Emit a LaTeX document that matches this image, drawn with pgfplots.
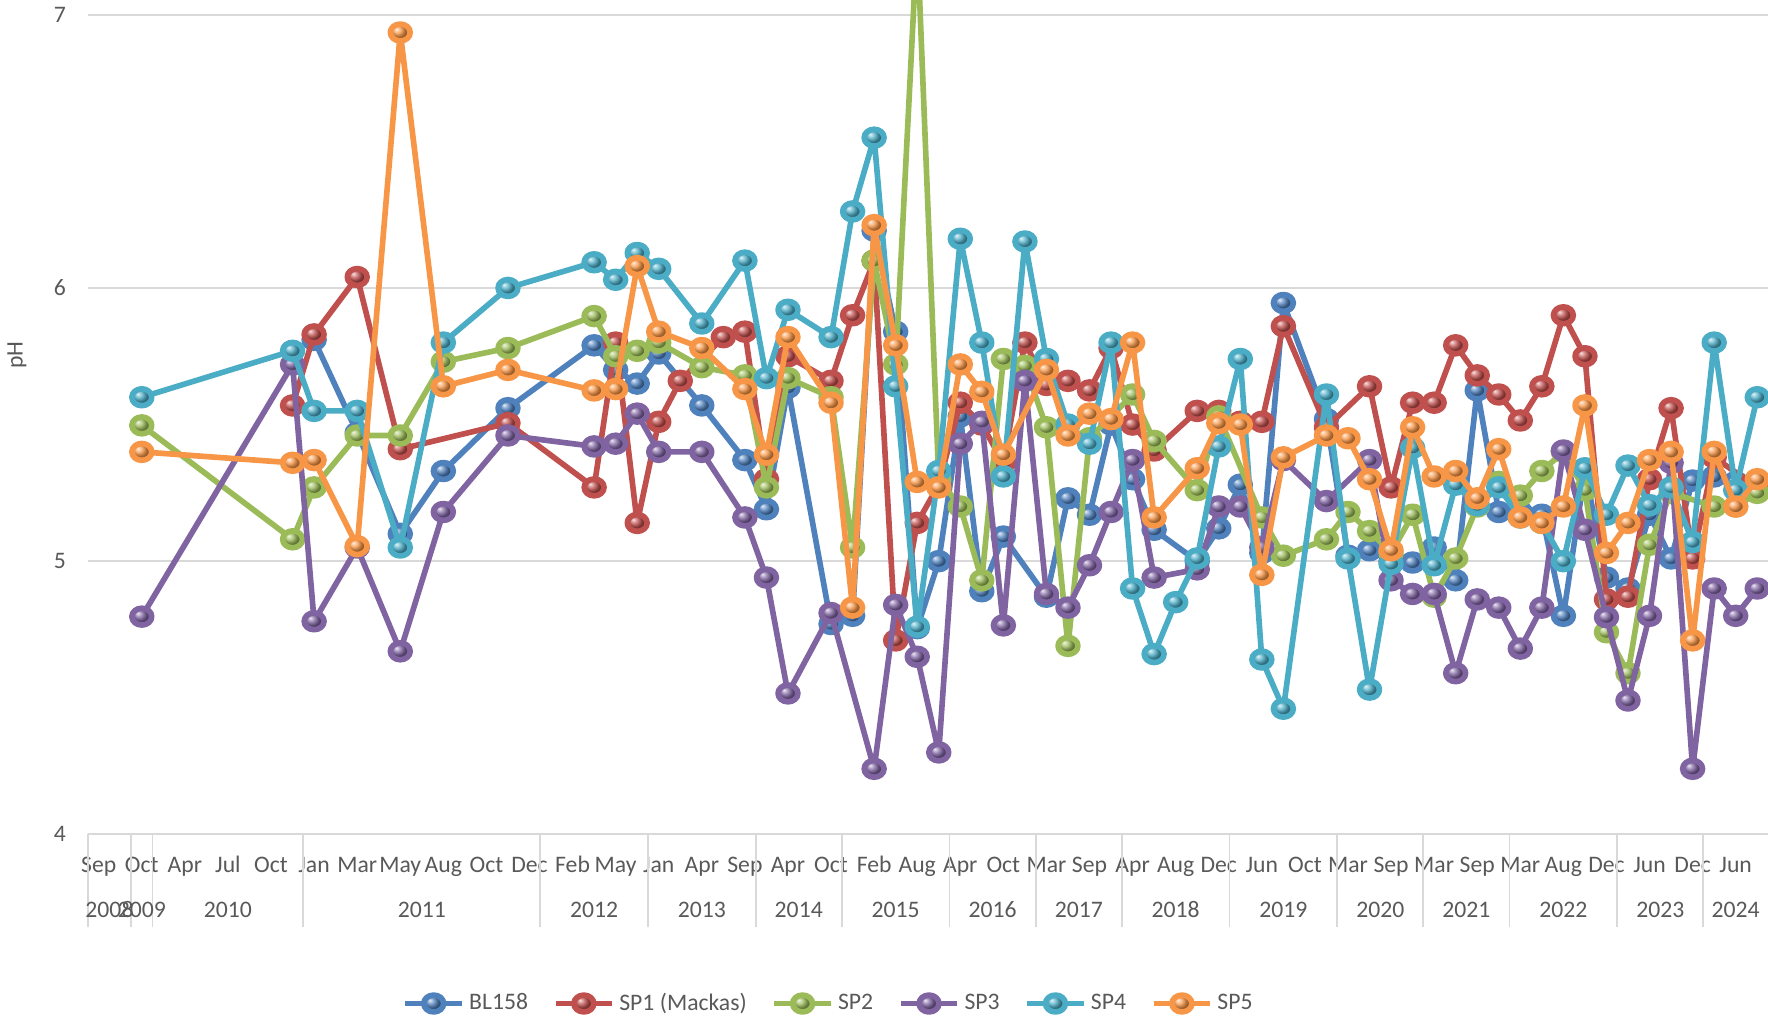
\documentclass[border=0pt]{standalone}
\usepackage{pgfplots}
\pgfplotsset{compat=1.18}
\usepackage{fontspec}
\setmainfont{Carlito}
\definecolor{cA}{HTML}{4F81BD}
\definecolor{cB}{HTML}{C0504D}
\definecolor{cC}{HTML}{9BBB59}
\definecolor{cD}{HTML}{8064A2}
\definecolor{cE}{HTML}{4BACC6}
\definecolor{cF}{HTML}{F79646}
\definecolor{txt}{HTML}{595959}
\definecolor{grd}{HTML}{D9D9D9}
\pgfdeclareplotmark{ballA}{\shade[ball color=cA] (0pt,0pt) ellipse [x radius=\pgfplotmarksize, y radius=0.85*\pgfplotmarksize];}
\pgfdeclareplotmark{ballB}{\shade[ball color=cB] (0pt,0pt) ellipse [x radius=\pgfplotmarksize, y radius=0.85*\pgfplotmarksize];}
\pgfdeclareplotmark{ballC}{\shade[ball color=cC] (0pt,0pt) ellipse [x radius=\pgfplotmarksize, y radius=0.85*\pgfplotmarksize];}
\pgfdeclareplotmark{ballD}{\shade[ball color=cD] (0pt,0pt) ellipse [x radius=\pgfplotmarksize, y radius=0.85*\pgfplotmarksize];}
\pgfdeclareplotmark{ballE}{\shade[ball color=cE] (0pt,0pt) ellipse [x radius=\pgfplotmarksize, y radius=0.85*\pgfplotmarksize];}
\pgfdeclareplotmark{ballF}{\shade[ball color=cF] (0pt,0pt) ellipse [x radius=\pgfplotmarksize, y radius=0.85*\pgfplotmarksize];}
\newcommand\lbl{\fontsize{10.5}{12}\selectfont}
\begin{document}
\begin{tikzpicture}
\begin{axis}[
  width=745pt, height=370pt, scale only axis,
  xmin=-0.5, xmax=77.5, ymin=4, ymax=7.054,
  axis line style={draw=none},
  clip mode=individual,
  ytick={4,5,6,7}, ymajorgrids, grid style={grd, line width=0.8pt},
  xtick={0,2,...,76},
  xticklabels={Sep,Oct,Apr,Jul,Oct,Jan,Mar,May,Aug,Oct,Dec,Feb,May,Jan,Apr,Sep,Apr,Oct,Feb,Aug,Apr,Oct,Mar,Sep,Apr,Aug,Dec,Jun,Oct,Mar,Sep,Mar,Sep,Mar,Aug,Dec,Jun,Dec,Jun},
  tick style={draw=none},
  xticklabel style={anchor=base, yshift=-17pt, font=\lbl, text=txt},
  yticklabel style={anchor=east, xshift=-6.3pt, font=\lbl, text=txt},
  /pgf/number format/assume math mode=true,
  legend style={at={(0.4416,0)}, anchor=center, yshift=-75pt, draw=none, fill=none,
    legend columns=-1, font=\lbl, text=txt,
    /tikz/every even column/.append style={column sep=9pt}},
  legend image code/.code={\draw[mark repeat=2,mark phase=2,#1] plot coordinates {(0pt,0pt) (12.5pt,0pt) (25pt,0pt)};},
  every axis plot/.append style={line width=2.5pt, mark size=4.4pt, line join=round},
]
\addplot[color=cA, mark=ballA] coordinates {(10,5.81)(12,5.47)(14,5.10)(16,5.33)(19,5.56)(23,5.79)(24,5.70)(25,5.65)(26,5.76)(28,5.57)(30,5.37)(31,5.19)(32,5.635)(34,4.77)(35,4.80)(36,6.21)(37,5.84)(38,4.755)(39,5.00)(40,5.53)(41,4.89)(42,5.09)(44,4.87)(45,5.23)(46,5.17)(47,5.50)(48,5.30)(49,5.115)(51,5.00)(52,5.12)(53,5.28)(54,5.03)(55,5.945)(57,5.52)(58,5.02)(59,5.04)(60,5.00)(61,4.995)(62,5.05)(63,4.93)(64,5.625)(65,5.18)(66,5.18)(67,5.17)(68,4.80)(69,5.33)(70,4.94)(71,4.90)(72,5.17)(73,5.01)(74,5.295)(75,5.31)(76,5.29)(77,5.27)};
\addplot[color=cB, mark=ballB] coordinates {(9,5.57)(10,5.83)(12,6.04)(14,5.41)(19,5.505)(23,5.27)(24,5.80)(25,5.14)(26,5.51)(27,5.66)(29,5.82)(30,5.84)(31,5.30)(32,5.75)(34,5.66)(35,5.90)(36,6.10)(37,4.71)(38,5.14)(39,5.28)(40,5.58)(41,5.50)(42,5.36)(43,5.80)(44,5.645)(45,5.66)(46,5.625)(47,5.78)(48,5.50)(49,5.405)(51,5.55)(52,5.55)(53,5.51)(54,5.51)(55,5.86)(57,5.49)(59,5.64)(60,5.27)(61,5.58)(62,5.58)(63,5.79)(64,5.68)(65,5.61)(66,5.515)(67,5.64)(68,5.90)(69,5.75)(70,4.86)(71,4.87)(72,5.30)(73,5.56)(74,5.01)(75,5.38)(77,5.27)};
\addplot[color=cC, mark=ballC] coordinates {(2,5.497)(9,5.08)(10,5.27)(12,5.46)(14,5.46)(16,5.73)(19,5.78)(23,5.897)(24,5.75)(25,5.77)(26,5.80)(28,5.71)(30,5.68)(31,5.27)(32,5.67)(34,5.60)(35,5.05)(36,6.10)(37,5.72)(38,7.28)(39,5.30)(40,5.20)(41,4.93)(42,5.74)(43,5.715)(44,5.49)(45,4.69)(46,5.45)(48,5.61)(49,5.44)(51,5.26)(52,5.53)(54,5.16)(55,5.02)(57,5.08)(58,5.18)(59,5.11)(60,5.03)(61,5.17)(62,4.87)(63,5.01)(64,5.20)(65,5.29)(66,5.24)(67,5.33)(68,5.40)(69,5.26)(70,4.74)(71,4.59)(72,5.06)(73,5.25)(75,5.20)(76,5.20)(77,5.25)};
\addplot[color=cD, mark=ballD] coordinates {(2,4.797)(9,5.72)(10,4.78)(12,5.05)(14,4.67)(16,5.18)(19,5.46)(23,5.42)(24,5.43)(25,5.54)(26,5.40)(28,5.40)(30,5.16)(31,4.94)(32,4.516)(34,4.81)(36,4.24)(37,4.84)(38,4.65)(39,4.30)(40,5.43)(41,5.51)(42,4.765)(43,5.66)(44,4.88)(45,4.83)(46,4.985)(47,5.18)(48,5.37)(49,4.94)(51,4.97)(52,5.20)(53,5.20)(54,5.05)(55,5.37)(57,5.22)(59,5.37)(60,4.93)(61,4.88)(62,4.88)(63,4.59)(64,4.86)(65,4.83)(66,4.68)(67,4.83)(68,5.405)(69,5.115)(70,4.795)(71,4.49)(72,4.80)(73,5.36)(74,4.24)(75,4.90)(76,4.80)(77,4.90)};
\addplot[color=cE, mark=ballE] coordinates {(2,5.60)(9,5.77)(10,5.55)(12,5.55)(14,5.05)(16,5.80)(19,6.00)(23,6.094)(24,6.03)(25,6.128)(26,6.07)(28,5.87)(30,6.10)(31,5.67)(32,5.92)(34,5.82)(35,6.28)(36,6.55)(37,5.64)(38,4.76)(39,5.33)(40,6.18)(41,5.80)(42,5.31)(43,6.17)(44,5.74)(45,5.50)(46,5.43)(47,5.80)(48,4.90)(49,4.66)(50,4.85)(51,5.01)(52,5.42)(53,5.74)(54,4.64)(55,4.46)(57,5.61)(58,5.01)(59,4.53)(60,4.99)(61,5.415)(62,4.985)(63,5.28)(64,5.205)(65,5.27)(66,5.16)(67,5.14)(68,5.00)(69,5.34)(70,5.17)(71,5.35)(72,5.205)(73,5.27)(74,5.07)(75,5.80)(76,5.26)(77,5.60)};
\addplot[color=cF, mark=ballF] coordinates {(2,5.40)(9,5.36)(10,5.37)(12,5.055)(14,6.935)(16,5.64)(19,5.70)(23,5.625)(24,5.63)(25,6.08)(26,5.84)(28,5.78)(30,5.63)(31,5.39)(32,5.82)(34,5.58)(35,4.83)(36,6.23)(37,5.79)(38,5.29)(39,5.27)(40,5.72)(41,5.62)(42,5.39)(44,5.70)(45,5.46)(46,5.54)(47,5.52)(48,5.80)(49,5.16)(51,5.34)(52,5.505)(53,5.50)(54,4.95)(55,5.38)(57,5.46)(58,5.45)(59,5.30)(60,5.04)(61,5.49)(62,5.31)(63,5.33)(64,5.23)(65,5.41)(66,5.16)(67,5.14)(68,5.20)(69,5.57)(70,5.03)(71,5.14)(72,5.37)(73,5.40)(74,4.71)(75,5.40)(76,5.20)(77,5.30)};
\legend{BL158,SP1 (Mackas),SP2,SP3,SP4,SP5}
\pgfplotsinvokeforeach{-0.5,1.5,2.5,9.5,20.5,25.5,30.5,34.5,39.5,43.5,47.5,52.5,57.5,61.5,65.5,70.5,74.5}{
  \draw[grd, line width=0.8pt] (axis cs:#1,4) -- ++(0pt,-41pt);
}
\node[anchor=base, font=\lbl, text=txt] at ([yshift=-37pt]axis cs:0.5,4) {2008};
\node[anchor=base, font=\lbl, text=txt] at ([yshift=-37pt]axis cs:2,4) {2009};
\node[anchor=base, font=\lbl, text=txt] at ([yshift=-37pt]axis cs:6,4) {2010};
\node[anchor=base, font=\lbl, text=txt] at ([yshift=-37pt]axis cs:15,4) {2011};
\node[anchor=base, font=\lbl, text=txt] at ([yshift=-37pt]axis cs:23,4) {2012};
\node[anchor=base, font=\lbl, text=txt] at ([yshift=-37pt]axis cs:28,4) {2013};
\node[anchor=base, font=\lbl, text=txt] at ([yshift=-37pt]axis cs:32.5,4) {2014};
\node[anchor=base, font=\lbl, text=txt] at ([yshift=-37pt]axis cs:37,4) {2015};
\node[anchor=base, font=\lbl, text=txt] at ([yshift=-37pt]axis cs:41.5,4) {2016};
\node[anchor=base, font=\lbl, text=txt] at ([yshift=-37pt]axis cs:45.5,4) {2017};
\node[anchor=base, font=\lbl, text=txt] at ([yshift=-37pt]axis cs:50,4) {2018};
\node[anchor=base, font=\lbl, text=txt] at ([yshift=-37pt]axis cs:55,4) {2019};
\node[anchor=base, font=\lbl, text=txt] at ([yshift=-37pt]axis cs:59.5,4) {2020};
\node[anchor=base, font=\lbl, text=txt] at ([yshift=-37pt]axis cs:63.5,4) {2021};
\node[anchor=base, font=\lbl, text=txt] at ([yshift=-37pt]axis cs:68,4) {2022};
\node[anchor=base, font=\lbl, text=txt] at ([yshift=-37pt]axis cs:72.5,4) {2023};
\node[anchor=base, font=\lbl, text=txt] at ([yshift=-37pt]axis cs:76,4) {2024};
\node[rotate=90, font=\lbl, text=txt] at ([xshift=-31.5pt]rel axis cs:0,0.5743) {pH};
\end{axis}
\pgfresetboundingbox
\path[use as bounding box] (-39pt,-81.5pt) rectangle (745pt,370pt);
\end{tikzpicture}
\end{document}
